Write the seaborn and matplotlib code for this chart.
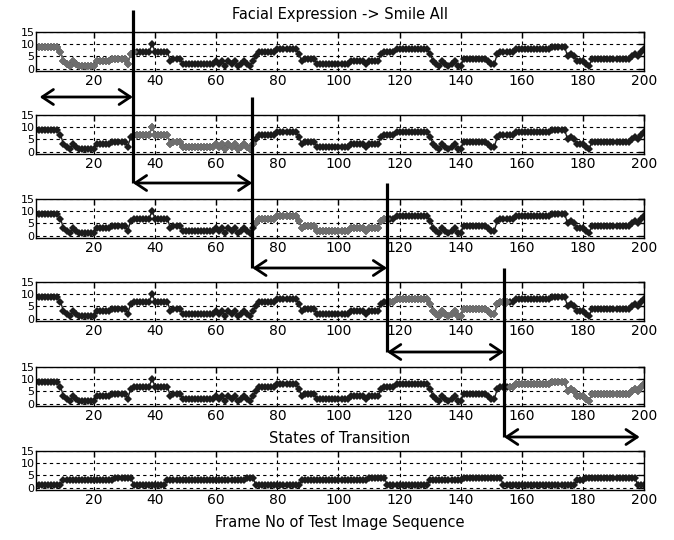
import matplotlib
matplotlib.use("Agg")
import matplotlib.pyplot as plt
import matplotlib.transforms as mtransforms
from matplotlib.patches import FancyArrowPatch
from matplotlib.lines import Line2D
import numpy as np
import pandas as pd
import seaborn as sns

# ---------------- data ----------------
frames = list(range(1, 201))

expression = [
    9, 9, 9, 9, 9, 9, 9, 9, 7, 3,
    2, 1, 3, 2, 1, 1, 1, 1, 1, 1,
    3, 3, 3, 3, 3, 4, 4, 4, 4, 4,
    2, 6, 7, 7, 7, 7, 7, 7, 10, 7,
    7, 7, 7, 7, 3, 4, 4, 4, 2, 2,
    2, 2, 2, 2, 2, 2, 2, 2, 2, 3,
    2, 3, 1, 3, 2, 3, 1, 2, 3, 2,
    1, 3, 5, 7, 7, 7, 7, 7, 7, 8,
    8, 8, 8, 8, 8, 8, 6, 3, 4, 4,
    4, 4, 2, 2, 2, 2, 2, 2, 2, 2,
    2, 2, 2, 3, 3, 3, 3, 3, 2, 3,
    3, 3, 3, 6, 7, 7, 7, 7, 8, 8,
    8, 8, 8, 8, 8, 8, 8, 8, 8, 6,
    3, 2, 1, 3, 2, 1, 2, 3, 1, 1,
    4, 4, 4, 4, 4, 4, 4, 4, 3, 2,
    2, 6, 7, 7, 7, 7, 7, 8, 8, 8,
    8, 8, 8, 8, 8, 8, 8, 8, 8, 9,
    9, 9, 9, 9, 5, 6, 5, 3, 3, 3,
    2, 1, 4, 4, 4, 4, 4, 4, 4, 4,
    4, 4, 4, 4, 4, 5, 6, 5, 7, 8,
]

states = [
    1, 1, 1, 1, 1, 1, 1, 1, 1, 3,
    3, 3, 3, 3, 3, 3, 3, 3, 3, 3,
    3, 3, 3, 3, 3, 3, 4, 4, 4, 4,
    4, 4, 1, 1, 1, 1, 1, 1, 1, 1,
    1, 1, 1, 3, 3, 3, 3, 3, 3, 3,
    3, 3, 3, 3, 3, 3, 3, 3, 3, 3,
    3, 3, 3, 3, 3, 3, 3, 3, 3, 4,
    4, 4, 1, 1, 1, 1, 1, 1, 1, 1,
    1, 1, 1, 1, 1, 1, 1, 3, 3, 3,
    3, 3, 3, 3, 3, 3, 3, 3, 3, 3,
    3, 3, 3, 3, 3, 3, 3, 3, 3, 4,
    4, 4, 4, 4, 4, 1, 1, 1, 1, 1,
    1, 1, 1, 1, 1, 1, 1, 1, 1, 3,
    3, 3, 3, 3, 3, 3, 3, 3, 3, 3,
    4, 4, 4, 4, 4, 4, 4, 4, 4, 4,
    4, 4, 4, 1, 1, 1, 1, 1, 1, 1,
    1, 1, 1, 1, 1, 1, 1, 1, 1, 1,
    1, 1, 1, 1, 1, 1, 1, 3, 3, 3,
    4, 4, 4, 4, 4, 4, 4, 4, 4, 4,
    4, 4, 4, 4, 4, 4, 4, 1, 1, 1,
]

segment_starts = [1, 34, 73, 117, 156]
segment_ends = [33, 72, 116, 155, 200]
boundaries = [32.7, 71.8, 115.9, 154.2]
arrow_ends = [2.2, 32.7, 71.8, 115.9, 154.2, 198.6]

x_ticks = [20, 40, 60, 80, 100, 120, 140, 160, 180, 200]
y_ticks = [0, 5, 10, 15]

title_top = "Facial Expression -> Smile All"
title_states = "States of Transition"
x_label = "Frame No of Test Image Sequence"

df_expr = pd.DataFrame({"frame": frames, "value": expression})
df_state = pd.DataFrame({"frame": frames, "value": states})

# ---------------- style ----------------
sns.set_theme(style="white", rc={
    "axes.edgecolor": "black",
    "axes.linewidth": 1.0,
    "xtick.color": "black",
    "ytick.color": "black",
    "text.color": "black",
    "axes.labelcolor": "black",
})
plt.rcParams["font.family"] = ["DejaVu Sans"]

W, H = 674, 540
fig = plt.figure(figsize=(W / 100, H / 100), dpi=100)
fig.patch.set_facecolor("white")

left_px, right_px = 36, 644
tops_px = [32, 115, 199, 282, 367, 451]
height_px = 39

dark = "#1c1c1c"
grey = "#6e6e6e"

axes = []
for i, t in enumerate(tops_px):
    ax = fig.add_axes([left_px / W, 1 - (t + height_px) / H,
                       (right_px - left_px) / W, height_px / H])
    axes.append(ax)
    data = df_expr if i < 5 else df_state
    sns.lineplot(data=data, x="frame", y="value", ax=ax, color=dark,
                 marker="D", markersize=4.4, markeredgewidth=0,
                 linewidth=1.0, estimator=None, legend=False)
    if i < 5:
        s, e = segment_starts[i], segment_ends[i]
        seg = df_expr[(df_expr["frame"] >= s) & (df_expr["frame"] <= e)]
        sns.lineplot(data=seg, x="frame", y="value", ax=ax, color=grey,
                     marker="D", markersize=4.4, markeredgewidth=0,
                     linewidth=1.0, estimator=None, legend=False)
    ax.set_xlim(1, 200)
    ax.set_ylim(-1, 15)
    ax.set_xticks(x_ticks)
    ax.set_yticks(y_ticks)
    ax.set_xticklabels([str(v) for v in x_ticks], fontsize=10)
    ax.set_yticklabels([str(v) for v in y_ticks], fontsize=8)
    ax.tick_params(direction="in", top=True, right=True, length=4,
                   width=1, pad=2)
    ax.tick_params(axis="y", pad=1)
    ax.grid(True, color="black", linestyle=(0, (3, 3)), linewidth=0.8)
    ax.set_xlabel("")
    ax.set_ylabel("")
    for sp in ax.spines.values():
        sp.set_visible(True)
        sp.set_color("black")
        sp.set_linewidth(1.0)

axes[0].set_title(title_top, fontsize=10.5, pad=9)
axes[5].set_title(title_states, fontsize=10.5, pad=6)
axes[5].set_xlabel(x_label, fontsize=10.5, labelpad=6)

# ---------------- annotations: boundaries & arrows ----------------
blend = mtransforms.blended_transform_factory(axes[0].transData, fig.transFigure)
arrow_levels_px = [97, 183, 268, 352, 437]
line_top_px = 10

def fy(px):
    return 1 - px / H

for k, b in enumerate(boundaries):
    y0 = line_top_px if k == 0 else arrow_levels_px[k - 1]
    y1 = arrow_levels_px[k + 1]
    ln = Line2D([b, b], [fy(y0), fy(y1)], transform=blend, color="black",
                linewidth=2.3, solid_capstyle="butt")
    fig.add_artist(ln)

for k, lvl in enumerate(arrow_levels_px):
    arr = FancyArrowPatch((arrow_ends[k], fy(lvl)), (arrow_ends[k + 1], fy(lvl)),
                          transform=blend, arrowstyle="<->,head_length=0.45,head_width=0.3",
                          mutation_scale=18, color="black", linewidth=2.0,
                          shrinkA=0, shrinkB=0)
    fig.add_artist(arr)

fig.savefig("out.png", dpi=100, facecolor="white")
